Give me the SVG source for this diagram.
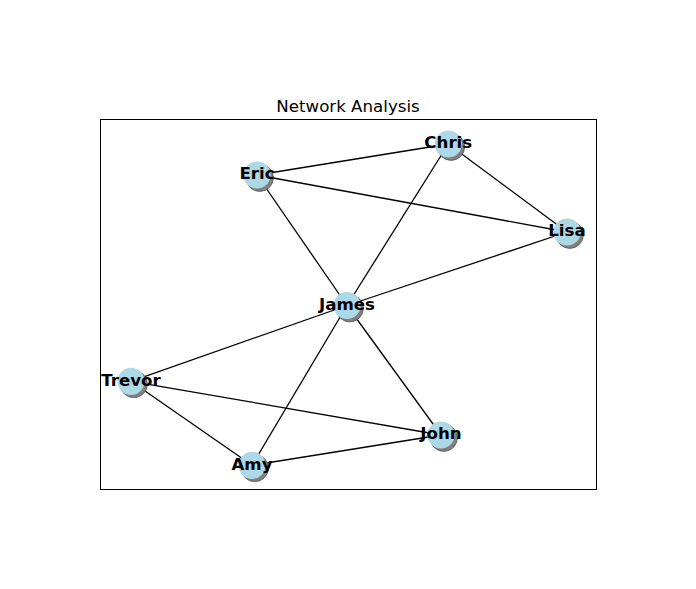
<svg xmlns="http://www.w3.org/2000/svg" width="696" height="589" viewBox="0 0 696 589">
<style>
.edge{stroke:#000;stroke-width:1.3;fill:none}
.shadow{fill:#808080;stroke:#5a5a5a;stroke-width:0.8}
.node{fill:#add8e6}
.lbl{font-family:"DejaVu Sans",sans-serif;font-weight:bold;font-size:16.67px;fill:#000;text-anchor:middle}
.title{font-family:"DejaVu Sans",sans-serif;font-size:16.67px;fill:#000;text-anchor:middle}
</style>
<rect width="696" height="589" fill="#fff"/>
<text class="title" x="348" y="111.5">Network Analysis</text>
<rect x="100.5" y="119.5" width="496" height="370" fill="none" stroke="#000" stroke-width="1"/>
<g id="connectors">
<line class="edge" x1="257" y1="175" x2="448.3" y2="144"/>
<line class="edge" x1="257" y1="175" x2="567" y2="232"/>
<line class="edge" x1="257" y1="175" x2="347" y2="305.5"/>
<line class="edge" x1="448.3" y1="144" x2="567" y2="232"/>
<line class="edge" x1="448.3" y1="144" x2="347" y2="305.5"/>
<line class="edge" x1="567" y1="232" x2="347" y2="305.5"/>
<line class="edge" x1="347" y1="305.5" x2="131" y2="381.3"/>
<line class="edge" x1="347" y1="305.5" x2="252" y2="465.3"/>
<line class="edge" x1="347" y1="305.5" x2="441" y2="435"/>
<line class="edge" x1="131" y1="381.3" x2="252" y2="465.3"/>
<line class="edge" x1="131" y1="381.3" x2="441" y2="435"/>
<line class="edge" x1="252" y1="465.3" x2="441" y2="435"/>
</g>
<g id="Eric"><circle class="shadow" cx="259.8" cy="177.8" r="13.6"/><circle class="node" cx="257" cy="175" r="13.6"/><text class="lbl" x="257" y="179.3">Eric</text></g>
<g id="Chris"><circle class="shadow" cx="451.1" cy="146.8" r="13.6"/><circle class="node" cx="448.3" cy="144" r="13.6"/><text class="lbl" x="448.3" y="148.3">Chris</text></g>
<g id="Lisa"><circle class="shadow" cx="569.8" cy="234.8" r="13.6"/><circle class="node" cx="567" cy="232" r="13.6"/><text class="lbl" x="567" y="236.3">Lisa</text></g>
<g id="James"><circle class="shadow" cx="349.8" cy="308.3" r="13.6"/><circle class="node" cx="347" cy="305.5" r="13.6"/><text class="lbl" x="347" y="309.8">James</text></g>
<g id="Trevor"><circle class="shadow" cx="133.8" cy="384.1" r="13.6"/><circle class="node" cx="131" cy="381.3" r="13.6"/><text class="lbl" x="131" y="385.6">Trevor</text></g>
<g id="John"><circle class="shadow" cx="443.8" cy="437.8" r="13.6"/><circle class="node" cx="441" cy="435" r="13.6"/><text class="lbl" x="441" y="439.3">John</text></g>
<g id="Amy"><circle class="shadow" cx="254.8" cy="468.1" r="13.6"/><circle class="node" cx="252" cy="465.3" r="13.6"/><text class="lbl" x="252" y="469.6">Amy</text></g>
</svg>
